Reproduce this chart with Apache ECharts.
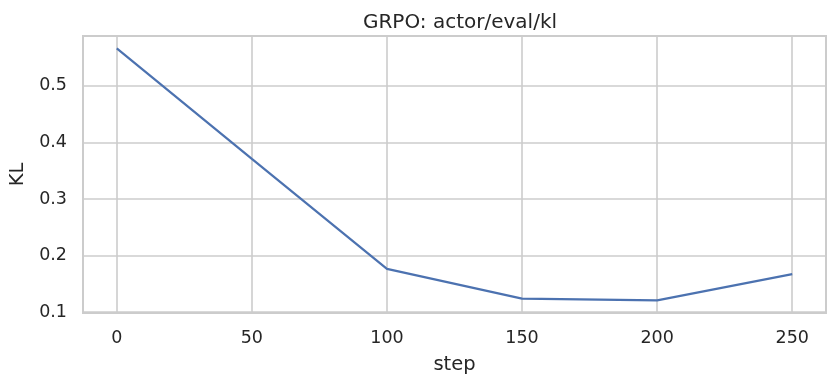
<!DOCTYPE html>
<html>
<head>
<meta charset="utf-8">
<script src="https://cdn.jsdelivr.net/npm/echarts@6/dist/echarts.min.js"></script>
<style>
  html, body { margin: 0; padding: 0; background: #fff; }
  #chart { width: 838px; height: 385px; }
</style>
</head>
<body>
<div id="chart"></div>
<script>
// eval steps and KL values
var steps = [0, 50, 100, 150, 200, 250];
var klValues = [0.566, 0.371, 0.1766, 0.1238, 0.1208, 0.1672];

var myChart = echarts.init(document.getElementById('chart'));
var font = 'DejaVu Sans';
var textColor = '#262626';

var option = {
    animation: false,
    backgroundColor: '#ffffff',
    title: {
        text: 'GRPO: actor/eval/kl',
        left: 455,
        textAlign: 'center',
        top: 8,
        textStyle: { fontFamily: font, fontSize: 20, fontWeight: 'normal', color: textColor }
    },
    grid: {
        show: true,
        left: 83,
        right: 12,
        top: 36,
        bottom: 72,
        outerBoundsMode: 'none',
        containLabel: false,
        borderColor: '#cccccc',
        borderWidth: 2
    },
    xAxis: {
        type: 'value',
        min: -12.5,
        max: 262.5,
        splitNumber: 5,
        name: 'step',
        nameLocation: 'middle',
        nameGap: 42,
        nameTextStyle: { fontFamily: font, fontSize: 19.5, color: textColor },
        axisLine: { show: false },
        axisTick: { show: false },
        axisLabel: {
            fontFamily: font, fontSize: 17.5, color: textColor, margin: 16,
            showMinLabel: false, showMaxLabel: false
        },
        splitLine: { show: true, lineStyle: { color: '#cccccc', width: 1.6 } }
    },
    yAxis: {
        type: 'value',
        min: 0.0985,
        max: 0.588,
        splitNumber: 5,
        name: 'KL',
        nameLocation: 'middle',
        nameGap: 48,
        nameRotate: 90,
        nameTextStyle: { fontFamily: font, fontSize: 19.5, color: textColor },
        axisLine: { show: false },
        axisTick: { show: false },
        axisLabel: {
            fontFamily: font, fontSize: 17.5, color: textColor, margin: 16,
            showMinLabel: false, showMaxLabel: false,
            formatter: function (v) { return v.toFixed(1); }
        },
        splitLine: { show: true, lineStyle: { color: '#cccccc', width: 1.6 } }
    },
    series: [
        {
            type: 'line',
            data: steps.map(function (s, i) { return [s, klValues[i]]; }),
            showSymbol: false,
            lineStyle: { color: '#4c72b0', width: 2.2 },
            itemStyle: { color: '#4c72b0' }
        }
    ]
};

myChart.setOption(option);
</script>
</body>
</html>
